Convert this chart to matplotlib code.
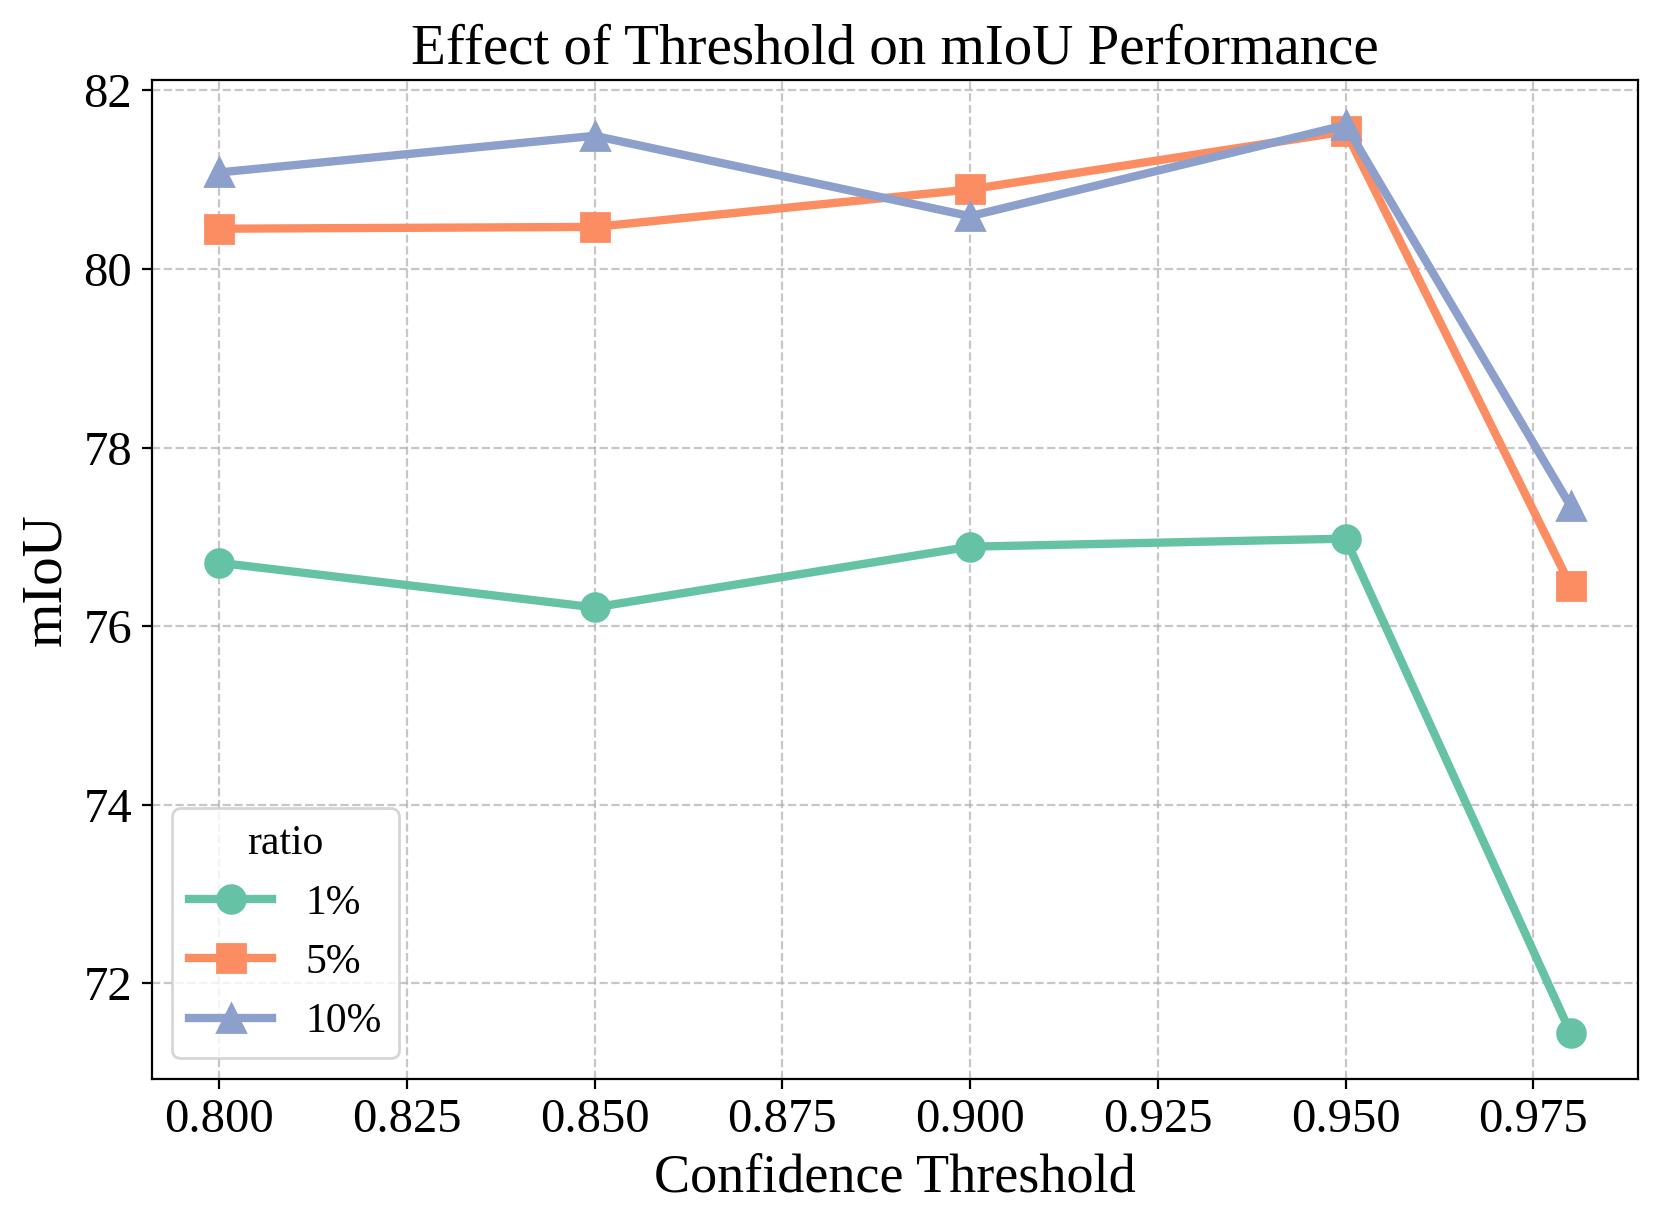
import matplotlib
matplotlib.use("Agg")
import matplotlib.pyplot as plt

plt.rcParams['font.family'] = ['Liberation Serif', 'DejaVu Serif']

thresholds = [0.80, 0.85, 0.90, 0.95, 0.98]
miou_1 = [76.71, 76.21, 76.89, 76.98, 71.44]
miou_5 = [80.45, 80.47, 80.89, 81.54, 76.45]
miou_10 = [81.08, 81.49, 80.59, 81.61, 77.34]
labels = ['1%', '5%', '10%']

colors = ['#66c2a5', '#fc8d62', '#8da0cb']
markers = ['o', 's', '^']

fig, ax = plt.subplots(figsize=(8.3, 6.13), dpi=200)
for vals, lab, c, m in zip([miou_1, miou_5, miou_10], labels, colors, markers):
    ax.plot(thresholds, vals, color=c, marker=m, lw=3, ms=10, label=lab)

ax.grid(True, linestyle='--', alpha=0.7)
ax.set_title("Effect of Threshold on mIoU Performance", fontsize=20.5)
ax.set_xlabel("Confidence Threshold", fontsize=19.5)
ax.set_ylabel("mIoU", fontsize=20.5)
ax.tick_params(labelsize=17.5)
ax.legend(title='ratio', loc='lower left', fontsize=15, title_fontsize=15)

fig.subplots_adjust(left=0.0913, right=0.987, top=0.935, bottom=0.120)
plt.savefig("out.png")
